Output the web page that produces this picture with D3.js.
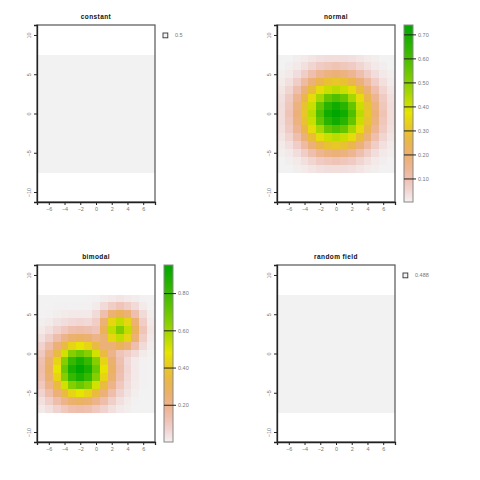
<!DOCTYPE html>
<html><head><meta charset="utf-8">
<script src="https://cdn.jsdelivr.net/npm/d3@7"></script>
<style>body{margin:0;background:#fff}svg{display:block}</style>
</head><body>
<svg id="c" width="480" height="480"></svg>
<script>
// ---------- data ----------
const gridX = [-7,-6,-5,-4,-3,-2,-1,0,1,2,3,4,5,6,7];
const gridY = [7,6,5,4,3,2,1,0,-1,-2,-3,-4,-5,-6,-7];
const xTicks = [-6,-4,-2,0,2,4,6];
const yTicks = [-10,-5,0,5,10];
const titles = ["constant","normal","bimodal","random field"];
const constantValue = 0.5;
const randomFieldValue = 0.488;
const normalTicks = [0.1,0.2,0.3,0.4,0.5,0.6,0.7];
const bimodalTicks = [0.2,0.4,0.6,0.8];
const normalRange = [0.002, 0.739];
const bimodalRange = [0.0, 0.951];

const normalValues = [
 [0.002,0.004,0.009,0.014,0.024,0.031,0.035,0.037,0.035,0.031,0.024,0.014,0.009,0.004,0.002],
 [0.004,0.010,0.019,0.033,0.052,0.072,0.084,0.089,0.084,0.072,0.052,0.033,0.019,0.010,0.004],
 [0.009,0.019,0.035,0.068,0.105,0.148,0.175,0.185,0.175,0.148,0.105,0.068,0.035,0.019,0.009],
 [0.014,0.033,0.068,0.122,0.185,0.251,0.295,0.310,0.295,0.251,0.185,0.122,0.068,0.033,0.014],
 [0.024,0.052,0.105,0.185,0.280,0.357,0.409,0.429,0.409,0.357,0.280,0.185,0.105,0.052,0.024],
 [0.031,0.072,0.148,0.251,0.357,0.457,0.553,0.591,0.553,0.457,0.357,0.251,0.148,0.072,0.031],
 [0.035,0.084,0.175,0.295,0.409,0.553,0.656,0.702,0.656,0.553,0.409,0.295,0.175,0.084,0.035],
 [0.037,0.089,0.185,0.310,0.429,0.591,0.702,0.739,0.702,0.591,0.429,0.310,0.185,0.089,0.037],
 [0.035,0.084,0.175,0.295,0.409,0.553,0.656,0.702,0.656,0.553,0.409,0.295,0.175,0.084,0.035],
 [0.031,0.072,0.148,0.251,0.357,0.457,0.553,0.591,0.553,0.457,0.357,0.251,0.148,0.072,0.031],
 [0.024,0.052,0.105,0.185,0.280,0.357,0.409,0.429,0.409,0.357,0.280,0.185,0.105,0.052,0.024],
 [0.014,0.033,0.068,0.122,0.185,0.251,0.295,0.310,0.295,0.251,0.185,0.122,0.068,0.033,0.014],
 [0.009,0.019,0.035,0.068,0.105,0.148,0.175,0.185,0.175,0.148,0.105,0.068,0.035,0.019,0.009],
 [0.004,0.010,0.019,0.033,0.052,0.072,0.084,0.089,0.084,0.072,0.052,0.033,0.019,0.010,0.004],
 [0.002,0.004,0.009,0.014,0.024,0.031,0.035,0.037,0.035,0.031,0.024,0.014,0.009,0.004,0.002]
];

const bimodalValues = [
 [0.000,0.001,0.001,0.001,0.002,0.002,0.002,0.004,0.012,0.022,0.027,0.022,0.012,0.004,0.001],
 [0.001,0.002,0.004,0.005,0.006,0.007,0.006,0.018,0.049,0.089,0.109,0.089,0.049,0.018,0.004],
 [0.003,0.006,0.011,0.016,0.020,0.022,0.020,0.049,0.133,0.243,0.297,0.243,0.133,0.049,0.012],
 [0.009,0.017,0.030,0.044,0.055,0.060,0.055,0.089,0.243,0.442,0.540,0.442,0.243,0.089,0.022],
 [0.020,0.041,0.070,0.102,0.129,0.139,0.129,0.109,0.297,0.540,0.660,0.540,0.297,0.109,0.027],
 [0.041,0.081,0.139,0.204,0.257,0.278,0.257,0.204,0.243,0.442,0.540,0.442,0.243,0.089,0.022],
 [0.070,0.139,0.238,0.350,0.440,0.476,0.440,0.350,0.238,0.243,0.297,0.243,0.133,0.049,0.012],
 [0.102,0.204,0.350,0.514,0.647,0.699,0.647,0.514,0.350,0.204,0.109,0.089,0.049,0.018,0.004],
 [0.129,0.257,0.440,0.647,0.815,0.881,0.815,0.647,0.440,0.257,0.129,0.055,0.020,0.006,0.002],
 [0.139,0.278,0.476,0.699,0.881,0.951,0.881,0.699,0.476,0.278,0.139,0.060,0.022,0.007,0.002],
 [0.129,0.257,0.440,0.647,0.815,0.881,0.815,0.647,0.440,0.257,0.129,0.055,0.020,0.006,0.002],
 [0.102,0.204,0.350,0.514,0.647,0.699,0.647,0.514,0.350,0.204,0.102,0.044,0.016,0.005,0.001],
 [0.070,0.139,0.238,0.350,0.440,0.476,0.440,0.350,0.238,0.139,0.070,0.030,0.011,0.003,0.001],
 [0.041,0.081,0.139,0.204,0.257,0.278,0.257,0.204,0.139,0.081,0.041,0.017,0.006,0.002,0.001],
 [0.020,0.041,0.070,0.102,0.129,0.139,0.129,0.102,0.070,0.041,0.020,0.009,0.003,0.001,0.000]
];

// ---------- colours: rev(terrain.colors(255)) ----------
function hsv(h,s,v){
  h = ((h%1)+1)%1;
  const i=Math.floor(h*6), f=h*6-i, p=v*(1-s), q=v*(1-s*f), t=v*(1-s*(1-f));
  let r,g,b;
  switch(i%6){case 0:r=v;g=t;b=p;break;case 1:r=q;g=v;b=p;break;case 2:r=p;g=v;b=t;break;
    case 3:r=p;g=q;b=v;break;case 4:r=t;g=p;b=v;break;default:r=v;g=p;b=q;}
  return d3.rgb(Math.round(r*255),Math.round(g*255),Math.round(b*255)).formatHex();
}
function terrain(n){
  const k=Math.floor(n/2), out=[];
  for(let i=0;i<k;i++){const a=i/(k-1); out.push(hsv(4/12-2/12*a,1,0.65+0.25*a));}
  const m=n-k+1;
  for(let j=1;j<m;j++){const a=j/(m-1); out.push(hsv(2/12-2/12*a,1-a,0.9+0.05*a));}
  return out;
}
const palette = terrain(255).reverse();
function colorScale(range){
  const s = d3.scaleQuantize().domain(range).range(palette);
  return v => s(Math.max(range[0],Math.min(range[1],v)));
}

// ---------- layout ----------
const svg = d3.select("#c");
const FONT = "'Liberation Sans', Arial, sans-serif";
const panels = [
  {x0:37, y0:25, title:titles[0], kind:"const", value:constantValue},
  {x0:277, y0:25, title:titles[1], kind:"grid", values:normalValues, range:normalRange, ticks:normalTicks},
  {x0:37, y0:265, title:titles[2], kind:"grid", values:bimodalValues, range:bimodalRange, ticks:bimodalTicks},
  {x0:277, y0:265, title:titles[3], kind:"const", value:randomFieldValue}
];
const W=118, H=177;
const defs = svg.append("defs");

panels.forEach((p,pi)=>{
  const g = svg.append("g");
  const x = d3.scaleLinear().domain([-7.5,7.5]).range([p.x0, p.x0+W]);
  const y = d3.scaleLinear().domain([-11.27,11.27]).range([p.y0+H, p.y0]);
  const cw = x(1)-x(0), ch = y(0)-y(1);

  const cells = [];
  gridY.forEach((yy,r)=>gridX.forEach((xx,c)=>{
    cells.push({x:xx,y:yy,v: p.kind==="grid" ? p.values[r][c] : p.value});
  }));
  const col = p.kind==="grid" ? colorScale(p.range) : (()=>palette[0]);
  g.append("g").selectAll("rect").data(cells).join("rect")
    .attr("x",d=>x(d.x-0.5)).attr("y",d=>y(d.y+0.5))
    .attr("width",cw+0.3).attr("height",ch+0.3)
    .attr("fill",d=>col(d.v)).attr("shape-rendering","crispEdges");

  g.append("rect").attr("x",p.x0).attr("y",p.y0).attr("width",W).attr("height",H)
    .attr("fill","none").attr("stroke","#555").attr("stroke-width",1.2);

  const xa = g.append("g").attr("transform",`translate(0,${p.y0+H})`)
    .call(d3.axisBottom(x).tickValues(xTicks).tickSize(3).tickPadding(2).tickFormat(d3.format("d")));
  xa.select(".domain").attr("stroke","#222").attr("stroke-width",1.3);
  xa.selectAll(".tick line").attr("stroke","#222");
  xa.selectAll("text").attr("fill","#777").attr("font-size",5.5).attr("font-family",FONT);

  const ya = g.append("g").attr("transform",`translate(${p.x0},0)`)
    .call(d3.axisLeft(y).tickValues(yTicks).tickSize(3).tickPadding(2).tickFormat(d3.format("d")));
  ya.select(".domain").attr("stroke","#222").attr("stroke-width",1.3);
  ya.selectAll(".tick line").attr("stroke","#222");
  ya.selectAll(".tick text").attr("fill","#777").attr("font-size",5.5).attr("font-family",FONT)
    .attr("x",0).attr("y",-7).attr("dy","0").attr("text-anchor","middle")
    .attr("dominant-baseline","middle").attr("transform","rotate(-90)");

  g.append("text").attr("x",p.x0+W/2).attr("y",p.y0-6).attr("text-anchor","middle")
    .attr("font-family",FONT).attr("font-weight","bold").attr("font-size",6.5)
    .attr("letter-spacing",0.4).attr("fill","#111").text(p.title);

  if(p.kind==="const"){
    g.append("rect").attr("x",p.x0+W+8).attr("y",p.y0+8).attr("width",4.8).attr("height",4.8)
      .attr("fill",palette[0]).attr("stroke","#333").attr("stroke-width",0.9);
    g.append("text").attr("x",p.x0+W+20).attr("y",p.y0+10.4).attr("dominant-baseline","middle")
      .attr("font-family",FONT).attr("font-size",5.5).attr("fill","#777").text(String(p.value));
  } else {
    const bx = p.x0+W+9, bw = 9;
    const ly = d3.scaleLinear().domain(p.range).range([p.y0+H, p.y0]);
    const gid = "grad"+pi;
    const grad = defs.append("linearGradient").attr("id",gid).attr("x1",0).attr("y1",1).attr("x2",0).attr("y2",0);
    grad.selectAll("stop").data(palette).join("stop")
      .attr("offset",(d,i)=>i/(palette.length-1)).attr("stop-color",d=>d);
    g.append("rect").attr("x",bx).attr("y",p.y0).attr("width",bw).attr("height",H)
      .attr("fill",`url(#${gid})`).attr("stroke","#888").attr("stroke-width",1);
    const la = g.append("g").attr("transform",`translate(${bx+bw},0)`)
      .call(d3.axisRight(ly).tickValues(p.ticks).tickSize(3).tickPadding(2).tickFormat(d3.format(".2f")));
    la.select(".domain").remove();
    la.selectAll(".tick line").attr("stroke","#222").attr("x1",-bw);
    la.selectAll("text").attr("fill","#777").attr("font-size",5.5).attr("font-family",FONT);
  }
});
</script>
</body></html>
